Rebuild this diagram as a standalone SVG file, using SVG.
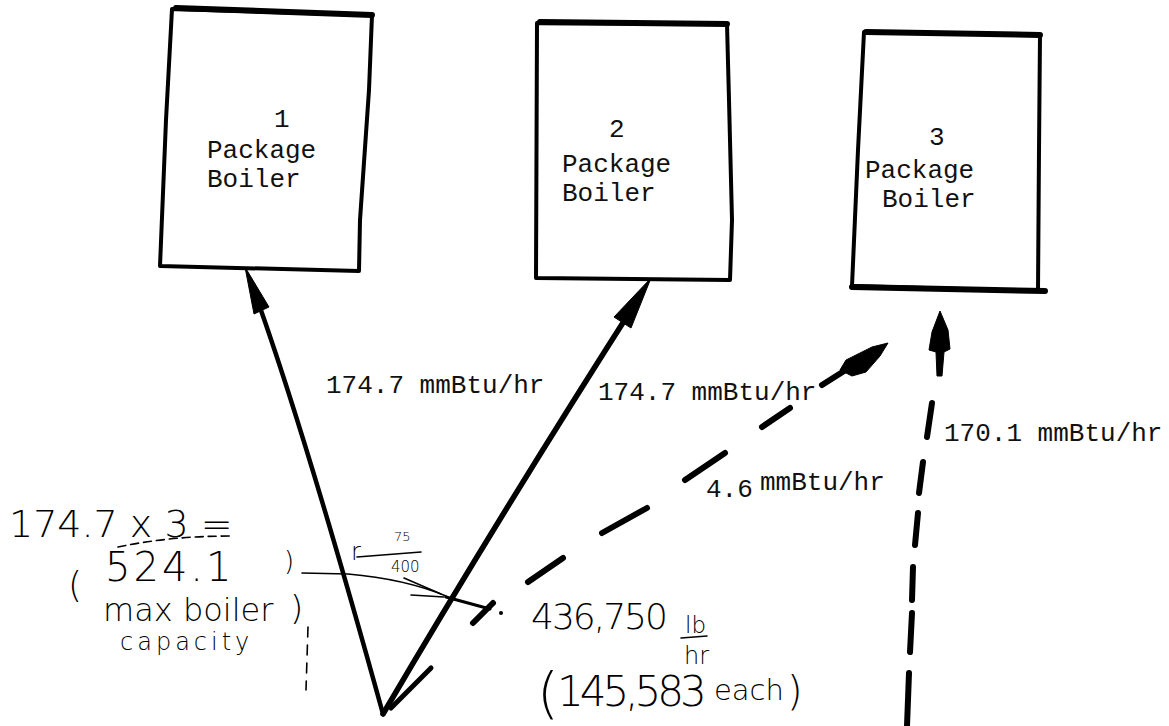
<svg xmlns="http://www.w3.org/2000/svg" width="1169" height="726" viewBox="0 0 1169 726">
<style>
.box{fill:none;stroke:#000;stroke-width:4;stroke-linejoin:round}
.top{fill:none;stroke:#000;stroke-width:6;stroke-linecap:round}
.t{font-family:"Liberation Mono","Courier New",monospace;font-size:26px;fill:#111}
.hw{font-family:"DejaVu Sans","Liberation Sans",sans-serif;font-weight:200;fill:#000}
.ln{fill:none;stroke:#000;stroke-linecap:round;stroke-linejoin:round}
.dash{fill:none;stroke:#000;stroke-width:6;stroke-linecap:round}
.thin{fill:none;stroke:#000;stroke-width:1.6;stroke-linecap:round}
.head{fill:#000;stroke:#000;stroke-width:1;stroke-linejoin:round}
</style>
<rect width="1169" height="726" fill="#fff"/>

<g id="boiler1">
<path class="box" d="M172 9 L372 15 L369 90 L360 220 L359 271 L160 266 L166 120 Z"/>
<path class="top" d="M176 8 L372 15"/>
<text class="t" x="274" y="127">1</text>
<text class="t" x="207" y="158">Package</text>
<text class="t" x="207" y="187">Boiler</text>
</g>

<g id="boiler2">
<path class="box" d="M537 23 L727 24 L729 100 L732 220 L730 280 L536 278 Z"/>
<path class="top" d="M540 22 L727 24"/>
<text class="t" x="609" y="137">2</text>
<text class="t" x="562" y="172">Package</text>
<text class="t" x="562" y="201">Boiler</text>
</g>

<g id="boiler3">
<path class="box" d="M864 32 L1040 35 L1039 150 L1038 291 L852 286 L858 150 Z"/>
<path class="top" d="M866 32 L1040 35"/>
<path class="top" d="M852 287 L1045 291"/>
<text class="t" x="929" y="145">3</text>
<text class="t" x="865" y="178">Package</text>
<text class="t" x="882" y="207">Boiler</text>
</g>

<g id="connectors">
<path class="ln" stroke-width="4.5" d="M383 714 Q 303 425 252 285"/>
<polygon class="head" points="245,267 269,307 254,314"/>
<path class="ln" stroke-width="5.5" d="M383 714 Q 498 518 640 296"/>
<polygon class="head" points="651,278 631,328 614,317"/>
<path class="ln" stroke-width="5" d="M431 668 L391 708"/>
<line class="dash" x1="473" y1="623" x2="493" y2="603"/>
<line class="dash" x1="528" y1="582" x2="563" y2="558"/>
<line class="dash" x1="602" y1="533" x2="647" y2="508"/>
<line class="dash" x1="685" y1="480" x2="725" y2="453"/>
<line class="dash" x1="762" y1="427" x2="790" y2="408"/>
<line class="dash" x1="822" y1="385" x2="852" y2="366"/>
<polygon class="head" points="888,343 872,347 846,360 840,370 852,376 866,372 880,356"/>
<polygon class="head" points="940,311 948,330 950,349 944,352 942,376 937,376 936,352 929,350 932,332"/>
<line class="dash" x1="932" y1="403" x2="927" y2="437"/>
<line class="dash" x1="923" y1="462" x2="919" y2="493"/>
<line class="dash" x1="918" y1="513" x2="915" y2="545"/>
<line class="dash" x1="913" y1="567" x2="912" y2="600"/>
<line class="dash" x1="912" y1="613" x2="910" y2="652"/>
<line class="dash" x1="909" y1="673" x2="907" y2="726"/>
</g>

<g id="labels">
<text class="t" x="326" y="393">174.7 mmBtu/hr</text>
<text class="t" x="598" y="400">174.7 mmBtu/hr</text>
<text class="t" x="706" y="497">4.6</text>
<text class="t" x="760" y="490">mmBtu/hr</text>
<text class="t" x="944" y="441">170.1 mmBtu/hr</text>
</g>

<g id="notes">
<text class="hw" x="9" y="537" font-size="38">174.7 x 3 =</text>
<path class="thin" stroke-dasharray="8 5" d="M118 547 Q 170 536 232 536"/>
<text class="hw" x="68" y="597" font-size="36">(</text>
<text class="hw" x="105" y="581" font-size="40" letter-spacing="3">524.1</text>
<text class="hw" x="284" y="570" font-size="26">)</text>
<text class="hw" x="103" y="621" font-size="32">max boiler</text>
<text class="hw" x="120" y="650" font-size="24" letter-spacing="4">capacity</text>
<text class="hw" x="290" y="620" font-size="34">)</text>
<path class="thin" stroke-dasharray="10 8" d="M308 627 L306 690"/>
<text class="hw" x="351" y="560" font-size="24">r</text>
<text class="hw" x="394" y="541" font-size="13">75</text>
<path class="thin" d="M357 557 L421 552"/>
<text class="hw" x="391" y="572" font-size="15">400</text>
<path class="thin" d="M302 573 L348 574 Q 405 579 446 596"/>
<path class="thin" d="M404 578 L441 594 M411 595 L444 597"/>
<path class="ln" stroke-width="3" d="M446 597 L490 609"/>
<circle cx="501" cy="613" r="2" fill="#000"/>
<text class="hw" x="531" y="629" font-size="36" letter-spacing="-2">436,750</text>
<text class="hw" x="685" y="633" font-size="23">lb</text>
<path class="thin" d="M681 638 L707 636"/>
<text class="hw" x="684" y="664" font-size="24">hr</text>
<text class="hw" x="537" y="712" font-size="56">(</text>
<text class="hw" x="557" y="706" font-size="42" letter-spacing="-4">145,583</text>
<text class="hw" x="714" y="700" font-size="29">each</text>
<text class="hw" x="787" y="705" font-size="40">)</text>
</g>
</svg>
